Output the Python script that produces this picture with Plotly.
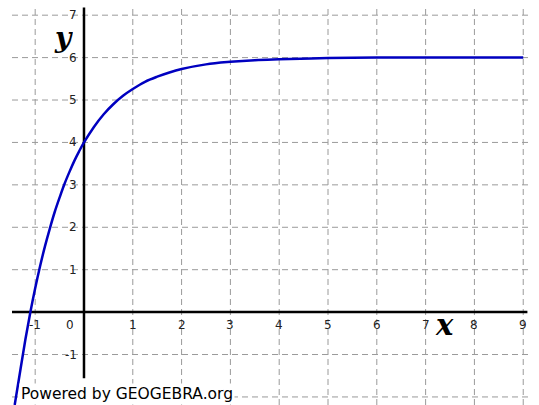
import plotly.graph_objects as go

# Curve points
curve_x = [-1.42, -1.3, -1.2, -1.1, -1.0, -0.9, -0.8, -0.7, -0.6, -0.5, -0.4, -0.3, -0.2, -0.1,
           0.0, 0.2, 0.4, 0.6, 0.8, 1.0, 1.25, 1.5, 1.75, 2.0, 2.5, 3.0, 3.5, 4.0, 5.0, 6.0, 7.0, 8.0, 9.0]
curve_y = [-2.19, -1.34, -0.64, -0.01, 0.56, 1.08, 1.55, 1.97, 2.36, 2.70, 3.02, 3.30, 3.56, 3.79,
           4.00, 4.36, 4.66, 4.90, 5.10, 5.26, 5.43, 5.55, 5.65, 5.73, 5.84, 5.90, 5.94, 5.96, 5.99, 6.00, 6.00, 6.00, 6.00]

x_ticks = [-1, 0, 1, 2, 3, 4, 5, 6, 7, 8, 9]
x_tick_labels = ["-1", "0", "1", "2", "3", "4", "5", "6", "7", "8", "9"]
y_ticks = [-1, 1, 2, 3, 4, 5, 6, 7]
y_tick_labels = ["-1", "1", "2", "3", "4", "5", "6", "7"]
grid_x = [-1, 0, 1, 2, 3, 4, 5, 6, 7, 8, 9]
grid_y = [-2, -1, 0, 1, 2, 3, 4, 5, 6, 7]

X_RANGE = [-1.475, 9.139]
Y_RANGE = [-2.19, 7.24]

fig = go.Figure()
fig.add_trace(go.Scatter(x=curve_x, y=curve_y, mode="lines", line=dict(color="#0000c0", width=2.5, shape="spline"),
                         hoverinfo="skip", showlegend=False))

shapes = []
grid_style = dict(color="#9a9a9a", width=1, dash="6px,4px")
for gx in grid_x:
    if gx == 0:
        continue
    shapes.append(dict(type="line", xref="x", yref="paper", x0=gx, x1=gx, y0=0, y1=1, line=grid_style, layer="below"))
for gy in grid_y:
    if gy == 0:
        continue
    shapes.append(dict(type="line", xref="paper", yref="y", x0=0, x1=1, y0=gy, y1=gy, line=grid_style, layer="below"))
# axes
shapes.append(dict(type="line", xref="paper", yref="y", x0=0, x1=0.995, y0=0, y1=0, line=dict(color="black", width=2.5), layer="below"))
shapes.append(dict(type="line", xref="x", yref="y", x0=0, x1=0, y0=-1.56, y1=7.18, line=dict(color="black", width=2.5), layer="below"))

annotations = []
tick_font = dict(family="DejaVu Sans, Verdana, sans-serif", size=12, color="#222")
for v, t in zip(x_ticks, x_tick_labels):
    xv = -0.28 if v == 0 else v
    annotations.append(dict(x=xv, y=-0.3, xref="x", yref="y", text=t, showarrow=False, font=tick_font,
                            height=13, borderpad=0))
for v, t in zip(y_ticks, y_tick_labels):
    annotations.append(dict(x=-0.12, y=v, xref="x", yref="y", text=t, showarrow=False, font=tick_font,
                            xanchor="right", height=12, borderpad=0))

annotations.append(dict(x=-0.42, y=6.48, xref="x", yref="y", text="<b><i>y</i></b>", showarrow=False,
                        font=dict(family="DejaVu Serif, serif", size=28, color="black"), height=34, borderpad=0))
annotations.append(dict(x=7.38, y=-0.3, xref="x", yref="y", text="<b><i>x</i></b>", showarrow=False,
                        font=dict(family="DejaVu Serif, serif", size=29, color="black"), height=30, borderpad=0))
annotations.append(dict(x=(19 - 12) / 518.0, y=0.0, xref="paper", yref="paper", text="Powered by GEOGEBRA.org",
                        showarrow=False, font=dict(family="DejaVu Sans, Verdana, sans-serif", size=15.5, color="black"),
                        bgcolor="white", xanchor="left", yanchor="bottom", borderpad=1))

fig.update_layout(
    width=539, height=405,
    margin=dict(l=12, r=9, t=5, b=0),
    paper_bgcolor="white", plot_bgcolor="white",
    xaxis=dict(range=X_RANGE, showgrid=False, zeroline=False, showticklabels=False, ticks="", fixedrange=True),
    yaxis=dict(range=Y_RANGE, showgrid=False, zeroline=False, showticklabels=False, ticks="", fixedrange=True),
    shapes=shapes, annotations=annotations,
)
fig.write_html("out.html", config={"displayModeBar": False},
               post_script="document.body.style.margin='0';document.body.style.overflow='hidden';")
